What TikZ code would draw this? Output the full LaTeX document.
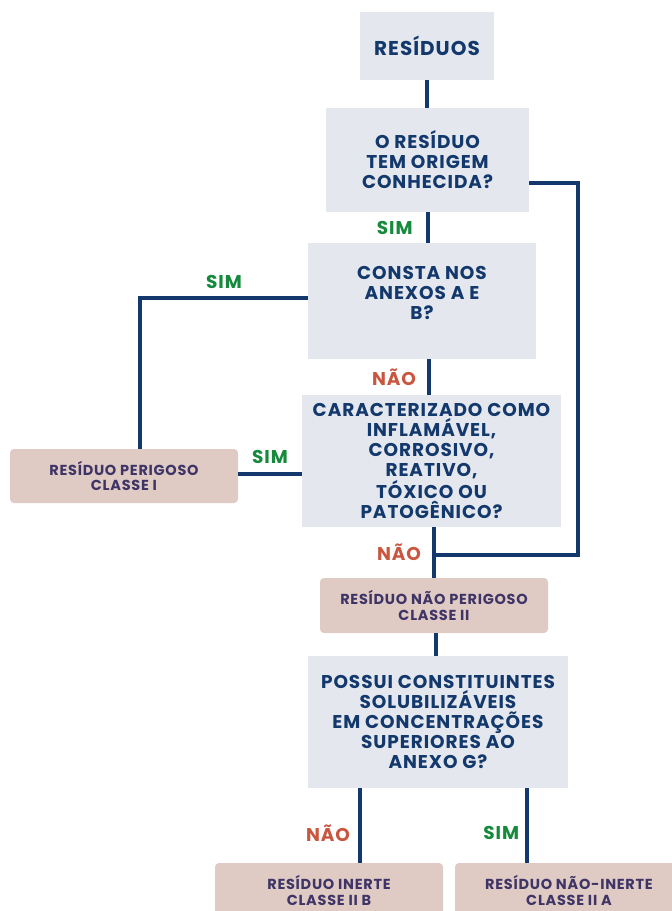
\documentclass[tikz,border=0pt]{standalone}
\usepackage{fontspec}
\setmainfont{Poppins}[LetterSpace=5]
\usepackage{tikz}
\definecolor{navy}{HTML}{12386C}
\definecolor{qfill}{HTML}{E4E7EE}
\definecolor{rfill}{HTML}{E0CAC4}
\definecolor{rtext}{HTML}{3E3566}
\definecolor{simgreen}{HTML}{168A3C}
\definecolor{naored}{HTML}{C9573F}

\tikzset{
  qbox/.style={fill=qfill,text=navy,align=center,inner sep=0pt,
    font=\fontsize{18.5}{20}\selectfont\bfseries},
  rbox/.style={fill=rfill,text=rtext,align=center,inner sep=0pt,rounded corners=4pt,
    font=\fontsize{14.5}{15.5}\selectfont\bfseries},
  link/.style={draw=navy,line width=4pt},
  sim/.style={text=simgreen,inner sep=0pt,font=\fontsize{18.5}{18.5}\selectfont\bfseries},
  nao/.style={text=naored,inner sep=0pt,font=\fontsize{18.5}{18.5}\selectfont\bfseries}
}

\begin{document}
\begin{tikzpicture}[x=1pt,y=-1pt]
	\clip (0,0) rectangle (672,911);
	\fill[white] (0,0) rectangle (672,911);

	% perguntas
	\node[qbox,minimum width=134,minimum height=68,font=\fontsize{20}{20}\selectfont\bfseries] (res) at (427,46) {RESÍDUOS};
	\node[qbox,minimum width=203,minimum height=104] (orig) at (427.5,160) {O RESÍDUO\\TEM ORIGEM\\CONHECIDA?};
	\node[qbox,minimum width=228,minimum height=116] (anexos) at (422,301) {CONSTA NOS\\ANEXOS A E\\B?\\[-4pt]\mbox{}};
	\node[qbox,minimum width=259,minimum height=132] (carac) at (431.5,461) {CARACTERIZADO COMO\\INFLAMÁVEL,\\CORROSIVO,\\REATIVO,\\TÓXICO OU\\PATOGÊNICO?};
	\node[qbox,minimum width=260,minimum height=132] (solub) at (438,722) {POSSUI CONSTITUINTES\\SOLUBILIZÁVEIS\\EM CONCENTRAÇÕES\\SUPERIORES AO\\ANEXO G?};

	% classes
	\node[rbox,minimum width=228,minimum height=54] (perig) at (124,476) {RESÍDUO PERIGOSO\\CLASSE I};
	\node[rbox,minimum width=228,minimum height=55] (naoperig) at (434,605.5) {RESÍDUO NÃO PERIGOSO\\CLASSE II};
	\node[rbox,minimum width=228,minimum height=55] (inerte) at (329,890.5) {RESÍDUO INERTE\\CLASSE II B};
	\node[rbox,minimum width=228,minimum height=55] (ninerte) at (569,890.5) {RESÍDUO NÃO-INERTE\\CLASSE II A};

	\coordinate (lt) at (140,298);
	\coordinate (rt) at (578,183);
	\coordinate (rb) at (578,555);
	\coordinate (bl) at (360,863);
	\coordinate (br) at (527,863);

	\draw[link] (res.south) -- (res.south |- orig.north);
	\draw[link] (orig.south) -- node[sim,left=13]{SIM} (orig.south |- anexos.north);
	\draw[link] (anexos.west |- lt) -- node[sim,above=7]{SIM} (lt) -- (lt |- perig.north);
	\draw[link] (anexos.south -| 429,0) -- node[nao,left=11]{NÃO} (carac.north -| 429,0);
	\draw[link] (carac.west |- 0,474) -- node[sim,above=8]{SIM} (perig.east |- 0,474);
	\draw[link] (carac.south -| naoperig.north) -- node[nao,left=11]{NÃO} (naoperig.north);
	\draw[link] (orig.east |- rt) -- (rt) -- (rb) -- (rb -| naoperig.north);
	\draw[link] (naoperig.south -| 436,0) -- (solub.north -| 436,0);
	\draw[link] (bl |- solub.south) -- node[nao,pos=.6,left=8]{NÃO} (bl);
	\draw[link] (br |- solub.south) -- node[sim,pos=.6,left=6]{SIM} (br);
\end{tikzpicture}
\end{document}
